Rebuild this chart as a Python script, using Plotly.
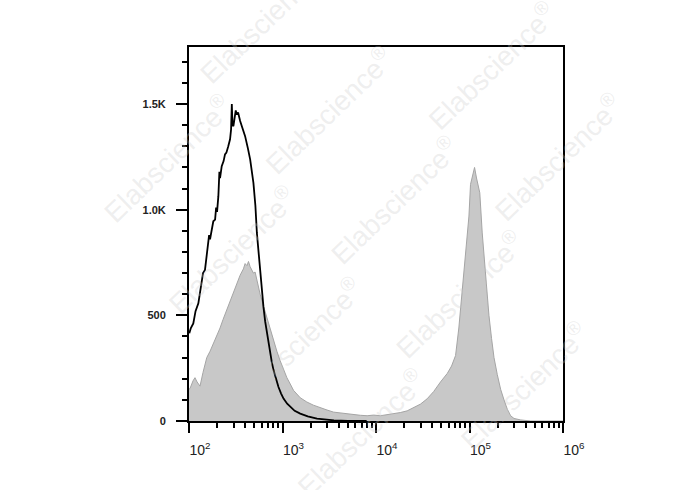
import plotly.graph_objects as go

# ---- data (x as log10 of fluorescence intensity, y as counts) ----
gray_log_x = [2.00, 2.011, 2.043, 2.064, 2.086, 2.118, 2.150, 2.19, 2.225, 2.26, 2.30, 2.332, 2.364,
              2.404, 2.44, 2.475, 2.511, 2.547, 2.582, 2.60, 2.62, 2.636, 2.654, 2.689, 2.707,
              2.729, 2.761, 2.796, 2.833, 2.868, 2.904, 2.94, 2.975, 3.011, 3.047, 3.083, 3.118,
              3.19, 3.26, 3.33, 3.404, 3.476, 3.547, 3.618, 3.69, 3.76, 3.833, 3.905, 3.975,
              4.047, 4.119, 4.19, 4.26, 4.333, 4.404, 4.476, 4.547, 4.618, 4.69, 4.762, 4.808,
              4.851, 4.886, 4.923, 4.958, 4.994, 5.011, 5.033, 5.054, 5.075, 5.10, 5.11, 5.136,
              5.171, 5.208, 5.236, 5.262, 5.297, 5.333, 5.369, 5.405, 5.44, 5.476, 5.548, 5.655, 6.0]
gray_counts = [150, 154, 190, 205, 185, 165, 230, 300, 330, 365, 410, 440, 480,
               525, 570, 610, 645, 690, 720, 745, 735, 755, 730, 700, 705,
               660, 600, 545, 490, 430, 380, 330, 285, 245, 205, 175, 145,
               110, 90, 75, 62, 52, 42, 38, 33, 30, 27, 25, 28,
               25, 30, 33, 40, 48, 62, 80, 105, 140, 185, 225, 260,
               310, 440, 610, 800, 970, 1120, 1170, 1200, 1150, 1100, 1080, 890,
               690, 500, 390, 300, 220, 150, 100, 55, 25, 12, 5, 0, 0]

black_log_x = [2.003, 2.02, 2.046, 2.07, 2.10, 2.12, 2.136, 2.15, 2.171, 2.19, 2.207, 2.215, 2.225,
               2.24, 2.26, 2.279, 2.29, 2.30, 2.314, 2.325, 2.332, 2.35, 2.37, 2.385, 2.40, 2.42,
               2.439, 2.45, 2.458, 2.465, 2.475, 2.49, 2.50, 2.511, 2.525, 2.547, 2.57, 2.60, 2.63,
               2.654, 2.689, 2.71, 2.726, 2.745, 2.761, 2.78, 2.796, 2.815, 2.833, 2.85, 2.868,
               2.885, 2.904, 2.93, 2.957, 2.985, 3.011, 3.05, 3.083, 3.13, 3.19, 3.27, 3.369,
               3.45, 3.55, 3.7, 3.9]
black_counts = [415, 440, 462, 520, 557, 620, 652, 700, 715, 780, 826, 880, 860,
                900, 945, 953, 1010, 990, 1064, 1180, 1150, 1206, 1230, 1262, 1270, 1300,
                1333, 1380, 1500, 1400, 1396, 1440, 1470, 1450, 1460, 1420, 1390, 1348, 1290,
                1238, 1127, 1020, 890, 790, 700, 610, 541, 470, 415, 365, 320,
                280, 241, 195, 161, 130, 106, 82, 66, 48, 35, 22, 11,
                6, 3, 1, 0]

x_tick_vals = [1e2, 1e3, 1e4, 1e5, 1e6]
x_tick_text = ["10<sup>2</sup>", "10<sup>3</sup>", "10<sup>4</sup>", "10<sup>5</sup>", "10<sup>6</sup>"]
x_minor_vals = [m * 10 ** e for e in range(2, 6) for m in range(2, 10)]
y_tick_vals = [0, 500, 1000, 1500]
y_tick_text = ["0", "500", "1.0K", "1.5K"]

watermark_text = "Elabscience<sup>®</sup>"
watermark_centers = [(137, -37), (-40, 145), (257, 83), (558, 24), (80, 265), (377, 200),
                     (678, 144), (200, 385), (497, 323), (617, 443), (317, 505)]

W, H = 688, 490

fig = go.Figure()
fig.add_trace(go.Scatter(
    x=[10 ** v for v in gray_log_x], y=gray_counts, mode="lines",
    fill="tozeroy", fillcolor="rgb(200,200,200)",
    line=dict(color="rgb(165,165,165)", width=1), hoverinfo="skip", showlegend=False))
fig.add_trace(go.Scatter(
    x=[10 ** v for v in black_log_x], y=black_counts, mode="lines",
    line=dict(color="black", width=1.8), hoverinfo="skip", showlegend=False))

for cx, cy in watermark_centers:
    fig.add_annotation(x=cx / W, y=1 - cy / H, xref="paper", yref="paper",
                       text=watermark_text, showarrow=False, textangle=-44,
                       font=dict(family="Liberation Sans", size=28, color="rgba(200,200,200,0.3)"),
                       xanchor="center", yanchor="middle")

fig.update_xaxes(type="log", range=[2, 6], showline=True, linecolor="black", linewidth=2,
                 mirror=True, ticks="outside", ticklen=10, tickwidth=2, tickcolor="black",
                 tickmode="array", tickvals=x_tick_vals, ticktext=x_tick_text,
                 ticklabelshift=11, ticklabelstandoff=5, showgrid=False, zeroline=False,
                 tickfont=dict(family="Liberation Sans", size=14, color="#222"),
                 minor=dict(tickmode="array", tickvals=x_minor_vals, ticks="outside",
                            ticklen=5, tickwidth=1.5, tickcolor="black", showgrid=False))
fig.update_yaxes(range=[0, 1770], showline=True, linecolor="black", linewidth=2,
                 mirror=True, ticks="outside", ticklen=11, tickwidth=2, tickcolor="black",
                 tickmode="array", tickvals=y_tick_vals, ticktext=y_tick_text,
                 ticklabelstandoff=8, showgrid=False, zeroline=False,
                 tickfont=dict(family="Liberation Sans", size=11, color="#222", weight="bold"),
                 minor=dict(dtick=100, tick0=0, ticks="outside", ticklen=5, tickwidth=1.5,
                            tickcolor="black", showgrid=False))

fig.update_layout(width=W, height=H, margin=dict(l=189, r=125, t=47, b=69),
                  paper_bgcolor="white", plot_bgcolor="white")

fig.write_html("out.html", config={"displayModeBar": False},
               post_script="document.body.style.margin='0';")
